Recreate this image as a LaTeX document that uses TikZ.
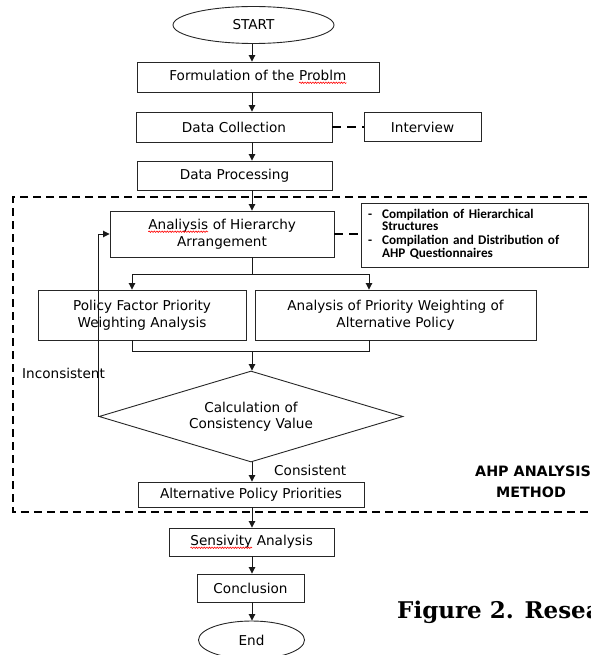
\documentclass[tikz,border=0pt]{standalone}
\usepackage{fontspec}
\setmainfont{DejaVu Sans}
\newfontfamily\notefont{Carlito}
\newfontfamily\capfont{DejaVu Serif}
\usetikzlibrary{arrows.meta,shapes.geometric,decorations.pathmorphing}
% red wavy underline for words flagged by the spell checker
\newcommand\spellmark[1]{\tikz[baseline=(sw.base)]{%
  \node[shape=rectangle, draw=none, fill=none, inner sep=0pt, outer sep=0pt,
        minimum width=0pt, minimum height=0pt, text width=] (sw) {#1};
  \draw[red, line width=0.6pt, decorate,
        decoration={snake, amplitude=0.7pt, segment length=2.6pt}]
        ([yshift=-2.2pt]sw.base west) -- ([yshift=-2.2pt]sw.base east);}}
\tikzset{
  box/.style={draw=black!85, line width=0.9pt, inner sep=2pt, align=center,
              font=\fontsize{13.6}{16.5}\selectfont},
  oval/.style={box, ellipse, inner sep=0pt},
  decision/.style={box, diamond, aspect=3.4, inner sep=0pt},
  notebox/.style={draw=black!85, line width=0.9pt, align=left, inner xsep=7pt,
              font=\notefont\bfseries\fontsize{13.2}{12.7}\selectfont},
  lbl/.style={font=\fontsize{13.6}{16.5}\selectfont, inner sep=0pt},
  tag/.style={font=\bfseries\fontsize{14.3}{16}\selectfont, inner sep=0pt},
  arr/.style={line width=0.9pt, draw=black!90, -{Triangle[length=6.5pt,width=6.5pt]}},
  link/.style={line width=0.9pt, draw=black!90},
  dashlink/.style={line width=1.6pt, dash pattern=on 9pt off 6pt},
  frame/.style={line width=1.6pt, dash pattern=on 8pt off 5pt},
}
\begin{document}
\begin{tikzpicture}[x=1pt,y=-1pt]
\useasboundingbox (0,0) rectangle (590,655);
\clip (0,0) rectangle (590,655);

% AHP analysis block
\draw[frame] (600,197) -- (13,197) -- (13,512) -- (600,512);

% main column
\node[oval, minimum width=161, minimum height=37] (start) at (253.5,25) {START};
\node[box, minimum width=242, minimum height=30] (form) at (258,77) {Formulation of the \spellmark{Problm}};
\node[box, minimum width=196, minimum height=30] (coll) at (234,127) {Data Collection};
\node[box, minimum width=117, minimum height=29] (intv) at (422.5,127) {Interview};
\node[box, minimum width=195, minimum height=29] (proc) at (234.5,175.5) {Data Processing};

\node[box, minimum width=224, minimum height=46] (hier) at (222,234) {\spellmark{Analiysis} of Hierarchy\\Arrangement};
\node[notebox, minimum height=64, text width=213] (note) at (474.5,235)
  {\begin{tabular}{@{}l@{\hspace{10pt}}l@{}}
   - & Compilation of Hierarchical\\
     & Structures\\
   - & Compilation and Distribution of\\
     & AHP Questionnaires
   \end{tabular}};

\node[box, minimum width=208, minimum height=50] (pfac) at (142,315) {Policy Factor Priority\\Weighting Analysis};
\node[box, minimum width=281, minimum height=50] (palt) at (395.5,315) {Analysis of Priority Weighting of\\Alternative Policy};

\node[decision, minimum width=304, minimum height=91] (cons) at (251,416.5) {Calculation of\\Consistency Value};
\node[box, minimum width=226, minimum height=25] (prio) at (251,494.5) {Alternative Policy Priorities};

\node[box, minimum width=165, minimum height=28] (sens) at (251.5,542) {\spellmark{Sensivity} Analysis};
\node[box, minimum width=107, minimum height=28] (conc) at (250.5,588) {Conclusion};
\node[oval, minimum width=106, minimum height=38] (end) at (251.5,640) {End};

% labels
\node[lbl, anchor=west] (inc) at (22,373) {Inconsistent};
\node[lbl, anchor=west] (okc) at (274,470) {Consistent};
\node[tag, anchor=west] (ahp1) at (475,471) {AHP ANALYSIS};
\node[tag] (ahp2) at (531,492) {METHOD};
\node[font=\capfont\bfseries\fontsize{23}{27}\selectfont, anchor=base west, inner sep=0pt] (cap) at (397,618) {Figure 2. Resea};

% spine coordinates
\coordinate (sp) at (252,0);
\coordinate (split) at (252,274);
\coordinate (sl) at (132,274);
\coordinate (sr) at (369,274);
\coordinate (ml) at (132,351);
\coordinate (mr) at (369,351);
\coordinate (mc) at (252,351);

% connectors
\draw[arr] (start.south -| sp) -- (form.north -| sp);
\draw[arr] (form.south -| sp) -- (coll.north -| sp);
\draw[arr] (coll.south -| sp) -- (proc.north -| sp);
\draw[dashlink] (coll.east) -- (intv.west);
\draw[arr] (proc.south -| sp) -- (hier.north -| sp);
\draw[dashlink] (hier.east) -- (hier.east -| note.west);

\draw[link] (hier.south -| split) -- (split);
\draw[link] (sl) -- (sr);
\draw[arr] (sl) -- (sl |- pfac.north);
\draw[arr] (sr) -- (sr |- palt.north);

\draw[link] (ml |- pfac.south) -- (ml) -- (mr) -- (mr |- palt.south);
\draw[arr] (mc) -- (mc |- cons.north);

\draw[arr] (cons.west) |- (hier.west);
\draw[arr] (cons.south -| sp) -- (prio.north -| sp);
\draw[arr] (prio.south -| sp) -- (sens.north -| sp);
\draw[arr] (sens.south -| sp) -- (conc.north -| sp);
\draw[arr] (conc.south -| sp) -- (end.north -| sp);
\end{tikzpicture}
\end{document}
